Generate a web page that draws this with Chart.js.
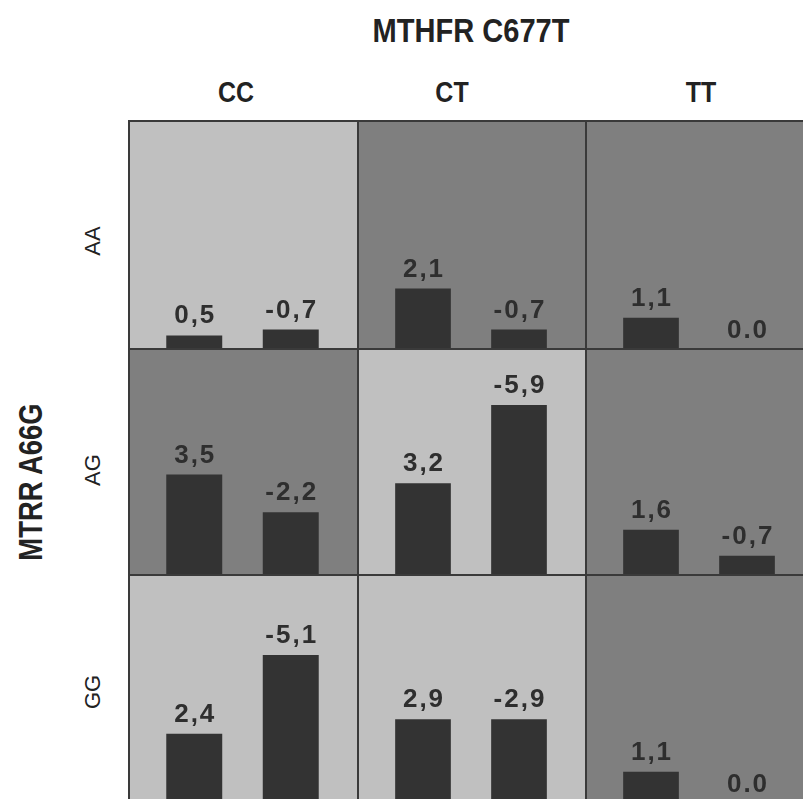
<!DOCTYPE html>
<html>
<head>
<meta charset="utf-8">
<script src="https://cdn.jsdelivr.net/npm/chart.js@4/dist/chart.umd.min.js"></script>
<style>
  html, body { margin: 0; padding: 0; background: #fff; overflow: hidden; width: 803px; height: 799px; }
  .txt { position: absolute; color: #222; white-space: nowrap; font-family: "Liberation Sans", Arial, sans-serif; }
  .head { font-weight: bold; }
  .panel { position: absolute; box-sizing: border-box; border-left: 2px solid #3a3a3a; border-top: 2px solid #3a3a3a; }
  .panel canvas { position: absolute; left: 0; top: 0; }
</style>
</head>
<body>

<div class="txt head" style="left:471px; top:31px; font-size:33px; transform:translate(-50%,-50%) scaleX(0.88);">MTHFR C677T</div>
<div class="txt head" style="left:236px; top:92px; font-size:29px; transform:translate(-50%,-50%) scaleX(0.86);">CC</div>
<div class="txt head" style="left:452px; top:92px; font-size:29px; transform:translate(-50%,-50%) scaleX(0.86);">CT</div>
<div class="txt head" style="left:701px; top:92px; font-size:29px; transform:translate(-50%,-50%) scaleX(0.86);">TT</div>
<div class="txt head" style="left:31px; top:482px; font-size:33px; transform:translate(-50%,-50%) rotate(-90deg) scaleX(0.83);">MTRR A66G</div>

<div id="grid"></div>

<script>
// MTHFR C677T genotypes (columns) and MTRR A66G genotypes (rows)
const columns = ['CC', 'CT', 'TT'];
const rows = ['AA', 'AG', 'GG'];
const barKeys = ['first', 'second'];

// values per row, one pair per column
const valuesAA = [[0.5, -0.7], [2.1, -0.7], [1.1, 0.0]];
const valuesAG = [[3.5, -2.2], [3.2, -5.9], [1.6, -0.7]];
const valuesGG = [[2.4, -5.1], [2.9, -2.9], [1.1, 0.0]];
const rowValues = [valuesAA, valuesAG, valuesGG];

// panel shading (1 = dark)
const shadeAA = [0, 1, 1];
const shadeAG = [1, 0, 1];
const shadeGG = [0, 0, 1];
const rowShades = [shadeAA, shadeAG, shadeGG];

const yMax = 7.8;

// layout
const left0 = 128, top0 = 120;
const colW = [229, 228, 228];
const rowH = [228, 226, 228];
const rowLabelX = 93;
const rowLabelY = [241, 470, 692];

const labelFmt = v => v === 0 ? '0.0' : v.toFixed(1).replace('.', ',');

const valueLabels = {
    id: 'valueLabels',
    afterDatasetsDraw(chart) {
        const ctx = chart.ctx;
        const ds = chart.data.datasets[0];
        const meta = chart.getDatasetMeta(0);
        ctx.save();
        ctx.font = 'bold 26px "Liberation Sans", Arial, sans-serif';
        ctx.letterSpacing = '2px';
        ctx.fillStyle = '#2e2e2e';
        ctx.textAlign = 'center';
        ctx.textBaseline = 'alphabetic';
        meta.data.forEach((bar, i) => {
            ctx.fillText(labelFmt(ds.raw[i]), bar.x + 1, bar.y - 12);
        });
        ctx.restore();
    }
};

const grid = document.getElementById('grid');
let y = top0;
rows.forEach((row, r) => {
    // row label
    const lab = document.createElement('div');
    lab.className = 'txt';
    lab.style.cssText = `left:${rowLabelX}px; top:${rowLabelY[r]}px; font-size:22px; transform:translate(-50%,-50%) rotate(-90deg);`;
    lab.textContent = row;
    document.body.appendChild(lab);

    let x = left0;
    columns.forEach((col, c) => {
        const w = colW[c], h = rowH[r];
        const div = document.createElement('div');
        div.className = 'panel';
        div.style.cssText = `left:${x}px; top:${y}px; width:${w + 2}px; height:${h + 2}px; background:${rowShades[r][c] ? '#7f7f7f' : '#c0c0c0'};`;
        const cv = document.createElement('canvas');
        cv.width = w; cv.height = h;
        cv.style.width = w + 'px'; cv.style.height = h + 'px';
        div.appendChild(cv);
        grid.appendChild(div);

        const vals = rowValues[r][c];
        new Chart(cv, {
            type: 'bar',
            data: {
                labels: barKeys,
                datasets: [{
                    data: vals.map(v => Math.abs(v)),
                    raw: vals,
                    backgroundColor: '#333333',
                    borderWidth: 0,
                    categoryPercentage: 1,
                    barPercentage: 0.58
                }]
            },
            options: {
                responsive: false,
                animation: false,
                layout: { padding: { left: 16, right: 20, top: 0, bottom: 0 } },
                scales: {
                    x: { display: false, offset: true },
                    y: { display: false, min: 0, max: yMax }
                },
                plugins: { legend: { display: false }, tooltip: { enabled: false } }
            },
            plugins: [valueLabels]
        });
        x += w;
    });
    y += rowH[r];
});
</script>
</body>
</html>
